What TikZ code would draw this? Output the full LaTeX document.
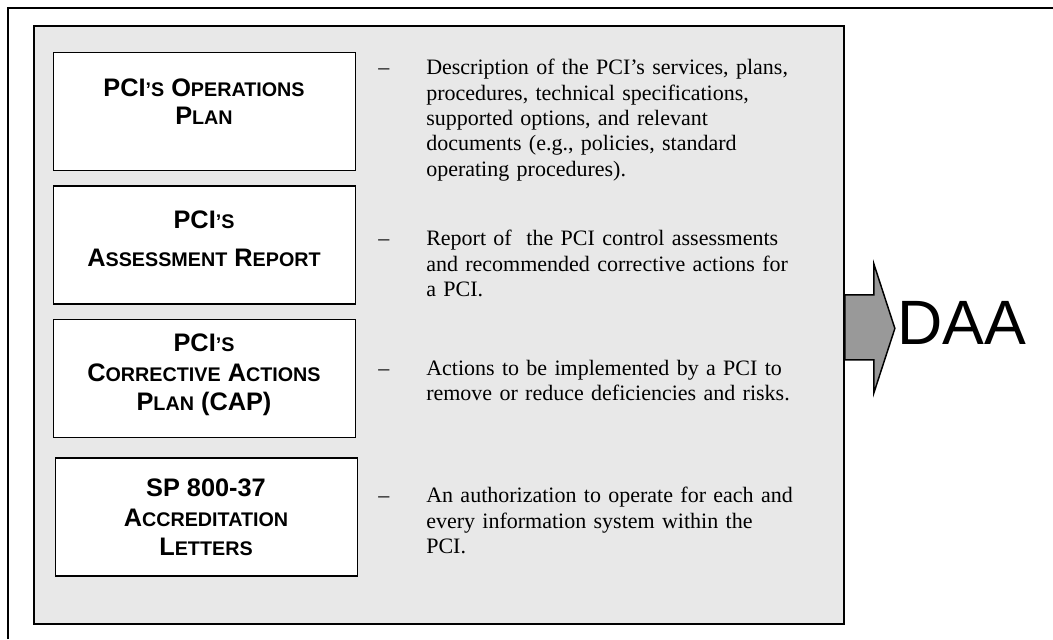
\documentclass[tikz,border=0pt]{standalone}
\usepackage{fontspec}
\setmainfont{Liberation Serif}
\newfontfamily\boxfont{Liberation Sans}
\usetikzlibrary{positioning}
\definecolor{panelgrey}{HTML}{E8E8E8}
\definecolor{arrowgrey}{HTML}{999999}
\tikzset{%
  panelbox/.style={rectangle,draw=black,fill=panelgrey,line width=1.4pt,inner sep=0pt,minimum width=607.5pt,minimum height=448.5pt}
}
\tikzset{%
  docbox/.style={rectangle,draw=black,fill=white,line width=1.1pt,inner sep=0pt,minimum width=226.5pt,minimum height=88.5pt}
}
\tikzset{%
  boxtext/.style={align=center,inner sep=0pt,font=\boxfont\bfseries\fontsize{19pt}{22pt}\selectfont},
  desctext/.style={text width=320pt,align=left,inner sep=0pt,anchor=north west,font=\fontsize{16.5pt}{19pt}\selectfont}
}
\newcommand\smcap[1]{{\fontsize{14.8pt}{14.8pt}\selectfont\MakeUppercase{#1}}}
\newcommand\descitem[1]{\leftskip=36pt\hspace*{-36pt}\makebox[36pt][l]{--}#1\par}

\begin{document}
\begin{tikzpicture}[x=0.75pt,y=-0.75pt,node distance=10.5pt]
    \useasboundingbox (0,0) rectangle (1053,639);
    \draw[line width=1.5pt] (8,639) -- (8,8) -- (1053,8);

    \node[panelbox,anchor=north west](panel) at (33,25) {};

    \node[docbox,anchor=north west](opsbox) at (53,52) {};
    \node[docbox,below=of opsbox](assessbox) {};
    \node[docbox,below=of assessbox](capbox) {};
    \node[docbox,below=14.25pt of capbox,xshift=1.5pt](letterbox) {};

    \node[boxtext](opstext) at (204,101.5) {PCI\smcap{’s} O\smcap{perations}\\[-1.5pt]P\smcap{lan}};
    \node[boxtext](assesstext) at (204,239) {PCI\smcap{’s}\\[6.5pt]A\smcap{ssessment} R\smcap{eport}};
    \node[boxtext](captext) at (204,375) {PCI\smcap{’s}\\C\smcap{orrective} A\smcap{ctions}\\P\smcap{lan} (CAP)};
    \node[boxtext](lettertext) at (206,517.5) {SP 800-37\\A\smcap{ccreditation}\\L\smcap{etters}};

    \node[desctext](opsdesc) at (378,59) {\descitem{Description of the PCI’s services, plans,\\procedures, technical specifications,\\supported options, and relevant\\documents (e.g., policies, standard\\operating procedures).}};
    \node[desctext](assessdesc) at (378,230) {\descitem{Report of\ \ the PCI control assessments\\and recommended corrective actions for\\a PCI.}};
    \node[desctext](capdesc) at (378,360) {\descitem{Actions to be implemented by a PCI to\\remove or reduce deficiencies and risks.}};
    \node[desctext](letterdesc) at (378,487) {\descitem{An authorization to operate for each and\\every information system within the\\PCI.}};

    \draw[fill=arrowgrey,line width=1.1pt,line join=miter] (panel.east) ++(0,-30) -- ++(29,0) -- ++(0,-31) -- ++(21,64.5) -- ++(-21,64.5) -- ++(0,-33) -- ++(-29,0) -- cycle;
    \node[inner sep=0pt,font=\boxfont\fontsize{47pt}{47pt}\selectfont](daa) at (962,322.5) {DAA};
\end{tikzpicture}
\end{document}
